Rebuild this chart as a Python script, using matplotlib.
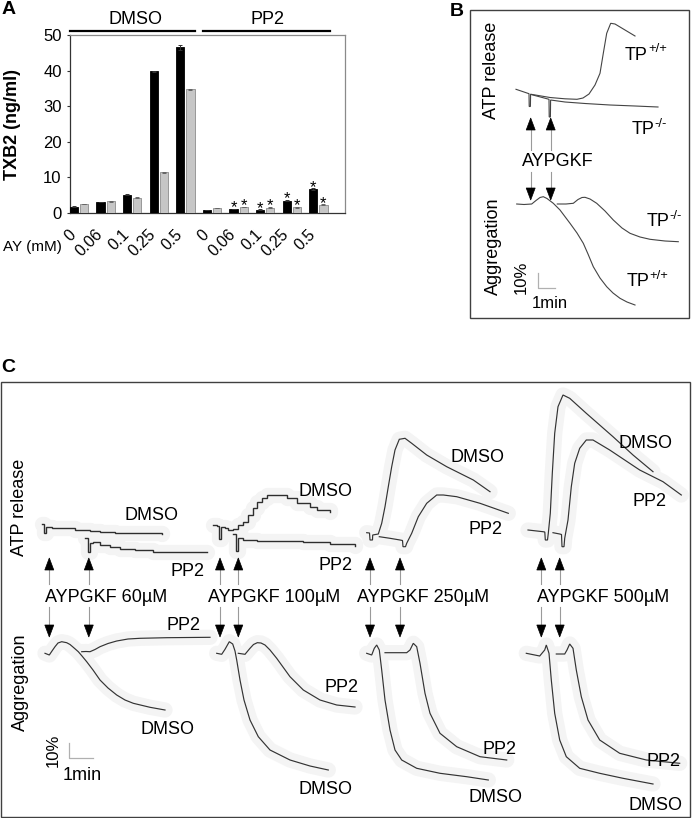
import matplotlib
matplotlib.use('Agg')
import matplotlib.pyplot as plt
import numpy as np
from matplotlib.patches import Polygon, Rectangle
import matplotlib.transforms as mtransforms

plt.rcParams['font.family'] = ['Liberation Sans', 'DejaVu Sans']

# ---------------- Panel A data ----------------
dose_labels = ['0', '0.06', '0.1', '0.25', '0.5', '0', '0.06', '0.1', '0.25', '0.5']
treatments = ['DMSO', 'PP2']
wt_txb2 = [1.8, 3.1, 5.1, 39.8, 46.5, 0.8, 1.1, 0.9, 3.5, 6.7]
ko_txb2 = [2.5, 3.3, 4.3, 11.4, 34.7, 1.4, 1.7, 1.5, 1.6, 2.3]
wt_err = [0.1, 0.1, 0.1, 0.2, 0.6, 0.05, 0.1, 0.1, 0.2, 0.2]
ko_err = [0.1, 0.1, 0.1, 0.15, 0.25, 0.05, 0.1, 0.1, 0.1, 0.1]
wt_sig = [False, False, False, False, False, False, True, True, True, True]
ko_sig = [False, False, False, False, False, False, True, True, True, True]
y_ticks = [0, 10, 20, 30, 40, 50]

# ---------------- Panel B traces (trace units = figure pixels) ----------------
B_ATP_WT = [(516, 89.3), (529, 93.7), (529.2, 106.5), (530.4, 106.5), (530.6, 94.2), (550, 97.5),
            (565, 98.8), (577, 99.3), (583, 98), (589, 94), (595, 85), (600, 73.3), (603.3, 53.3),
            (606.7, 33.3), (610.7, 23.3), (615, 24), (625, 30), (635, 36)]
B_ATP_KO = [(531, 94.5), (549, 99.3), (549.2, 117), (550.4, 117), (550.6, 100), (565, 102),
            (585, 103.5), (610, 105), (635, 106), (658, 107)]
B_AGG_WT = [(516.7, 204), (524, 204.5), (531.7, 204), (536, 200.5), (540, 197.5), (543.3, 196.7),
            (547, 198.5), (553.3, 203.3), (560, 210), (570, 223.3), (577, 233), (583.3, 243.3),
            (588, 254), (593.3, 266.7), (600, 278), (606.7, 286.7), (613, 293), (620, 298.3),
            (627, 302), (635, 305)]
B_AGG_KO = [(557.3, 204), (566, 204), (573.3, 203.3), (578, 199.5), (582, 197.5), (585, 197.3),
            (590, 199), (596.7, 203.3), (605, 211), (613.3, 220), (622, 228), (630, 233.3),
            (640, 237), (650, 239.3), (665, 241), (678.3, 241.7)]

# ---------------- Panel C traces ----------------
C1_ATP_DMSO = [(41.7, 524), (43.5, 533), (46, 527), (52, 527.5), (60, 528.3), (75, 530), (90, 531),
               (100, 531.7), (115, 532.5), (133, 533.3), (161.7, 534), (161.8, 534)]
C1_ATP_PP2 = [(85, 538.3), (87.5, 540), (88.3, 551.7), (90, 543), (93.3, 541.7), (100, 545),
              (110, 546.5), (120, 549), (135, 550), (153, 551.7), (206.7, 552.3), (206.8, 552.3)]
C1_AGG_DMSO = [(45, 653.3), (49.3, 655), (52, 651), (55, 646.7), (58, 643), (61.7, 641.7),
               (66.7, 642.7), (70, 644.5), (73.3, 647.3), (78.3, 651.7), (82, 656), (86.7, 661.7),
               (93, 670), (100, 680), (108, 688), (116.7, 695), (125, 700), (133.3, 703.3),
               (150, 707.3), (165, 710)]
C1_AGG_PP2 = [(81.7, 651.7), (86, 651.5), (90, 651.7), (95, 649.5), (100, 646.7), (108, 643.5),
              (116.7, 641), (128, 639), (140, 638.3), (166.7, 637.7), (210, 637.3)]

C2_ATP_DMSO = [(213.3, 524.5), (217, 526), (219, 539.3), (220.7, 527.3), (225, 528.3), (228.3, 530),
               (233.3, 529.3), (238.3, 525), (243.3, 521.7), (248.3, 515), (253.3, 508.3),
               (257.3, 501.7), (261.7, 498.3), (266.7, 495), (286.7, 498.3), (296.7, 503.3),
               (310, 506.7), (316.7, 510), (330, 511.7), (330.1, 511.7)]
C2_ATP_PP2 = [(233.3, 534), (236, 550.5), (238.3, 538.3), (243.3, 540), (256.7, 540.7),
              (303.3, 541.7), (330, 543.5), (355, 546), (355.1, 546)]
C2_AGG_DMSO = [(216.7, 653.3), (221.7, 654.3), (225, 649.3), (229.3, 641.7), (232.7, 644),
               (235, 651), (236.7, 660), (240, 680), (244, 700), (250, 720), (258.3, 736.7),
               (270, 750), (290, 760), (310, 766), (328.3, 770)]
C2_AGG_PP2 = [(238.3, 653.3), (245, 654.3), (250, 648.3), (253.5, 644.5), (257.3, 642.7),
              (261, 643), (265, 645), (270, 650), (276.7, 658.3), (290, 676.7), (303.3, 690),
              (320, 700), (336.7, 705), (355, 707)]

C3_ATP_DMSO = [(366.7, 532.7), (369.5, 533), (370, 540), (372.5, 540), (372.7, 535), (378.3, 534),
               (381.7, 523.3), (385, 506.7), (388.3, 486.7), (391.7, 466.7), (395, 450),
               (399.3, 439.3), (405, 438.3), (411.7, 443.3), (426.7, 455), (446.7, 466.7),
               (473.3, 480), (490, 491.7)]
C3_ATP_PP2 = [(379.3, 536.7), (390, 538.3), (400, 540), (402.5, 540.5), (403, 546.7), (405.5, 546.7),
              (406.7, 543.3), (411.7, 533.3), (418.3, 516.7), (426.7, 503.3), (436.7, 495),
              (443.3, 495), (456.7, 496.7), (480, 503.3), (508.3, 513.3)]
C3_AGG_DMSO = [(366.7, 653.3), (371.7, 655), (374.3, 648.3), (376.7, 645), (379.3, 650),
               (381.7, 670), (385, 700), (390, 730), (395, 750), (401.7, 760), (416.7, 768.3),
               (440, 773.3), (466.7, 776.7), (488.3, 780)]
C3_AGG_PP2 = [(385, 652.7), (406.7, 652.7), (410, 650), (413.3, 643.3), (416.7, 646.7),
              (420, 663.3), (425, 693.3), (430, 713.3), (440, 733.3), (456.7, 746.7),
              (480, 756.7), (506.7, 760)]

C4_ATP_DMSO = [(528, 530), (543, 531.7), (544.8, 532), (545.3, 540), (547.5, 540), (548.3, 533.3),
               (550.3, 513.3), (552.3, 473.3), (554.7, 433.3), (558, 406.7), (563, 395),
               (569.7, 398.3), (586.3, 413.3), (613, 436.7), (633, 455), (653, 471.7)]
C4_ATP_PP2 = [(553, 532.7), (559.7, 534), (561.5, 534.5), (562, 546.7), (564, 546.7),
              (564.7, 538.3), (568, 520), (571.3, 486.7), (574.7, 463.3), (579.7, 448.3),
              (586.3, 440), (593, 440), (609.7, 450), (639.7, 470), (663, 481.7), (681.3, 495)]
C4_AGG_DMSO = [(526.3, 653.3), (539.7, 656), (544.7, 650), (546.3, 645), (549, 653.3),
               (551.3, 680), (554.7, 713.3), (559.7, 740), (566.3, 756.7), (579.7, 768.3),
               (599.7, 773.3), (623, 778.3), (653, 784)]
C4_AGG_PP2 = [(556.3, 654), (564.7, 654), (567, 650), (569.7, 644), (573, 648.3), (576.3, 670),
              (581.3, 696.7), (588, 720), (599.7, 740), (619.7, 753.3), (646.3, 760),
              (679.7, 763.3)]

agonist_doses = ['60µM', '100µM', '250µM', '500µM']

# ---------------- Figure ----------------
W, H = 693, 818
fig = plt.figure(figsize=(W / 100, H / 100), dpi=100)
ov = fig.add_axes([0, 0, 1, 1])
ov.set_xlim(0, W)
ov.set_ylim(H, 0)
ov.axis('off')
renderer = fig.canvas.get_renderer()


def em(size):
    return size * 100 / 72


def label(xc, yc, s, size=13, ha='center', **kw):
    return ov.text(xc, yc + 0.36 * em(size), s, fontsize=size, ha=ha, va='baseline', **kw)


def rich(x, yc, parts, size=13, ha='left', color='black'):
    y = yc + 0.36 * em(size)
    cx = x
    texts = []
    for s, kind in parts:
        if kind == 'n':
            fs, dy = size, 0
        elif kind == 'sup':
            fs, dy = size * 0.72, -0.42 * em(size)
        else:
            fs, dy = size * 0.72, 0.22 * em(size)
        t = ov.text(cx, y + dy, s, fontsize=fs, ha='left', va='baseline', color=color)
        cx += t.get_window_extent(renderer).width
        texts.append(t)
    if ha == 'center':
        shift = (cx - x) / 2
        for t in texts:
            px, py = t.get_position()
            t.set_position((px - shift, py))


def trace(pts, steps=False, halo=True, color='#333333', lw=0.85):
    xs = [p[0] for p in pts]
    ys = [p[1] for p in pts]
    ds = 'steps-post' if steps else 'default'
    if halo:
        ov.plot(xs, ys, color='#f4f4f4', lw=11, solid_capstyle='round',
                solid_joinstyle='round', zorder=1, drawstyle=ds)
    ov.plot(xs, ys, color=color, lw=lw, zorder=3, drawstyle=ds,
            solid_joinstyle='miter')


def arrow(x, y_tail, y_tip, head=12, hw=4.5):
    d = 1 if y_tip > y_tail else -1
    base = y_tip - d * head
    ov.plot([x, x], [y_tail, base], color='#9a9a9a', lw=0.8, zorder=3)
    ov.add_patch(Polygon([(x - hw, base), (x + hw, base), (x, y_tip)], closed=True,
                         facecolor='black', edgecolor='black', lw=0.5, zorder=4))


# ---------------- Panel A ----------------
axA = fig.add_axes([70 / W, 1 - 213 / H, 275 / W, 178 / H])
xg = np.arange(len(wt_txb2))
axA.bar(xg - 0.19, wt_txb2, 0.31, color='black', edgecolor='black', lw=0.6,
        yerr=wt_err, capsize=1.5, error_kw=dict(lw=0.7, ecolor='#333333', capthick=0.7), zorder=3)
axA.bar(xg + 0.19, ko_txb2, 0.31, color='#c6c6c6', edgecolor='#8c8c8c', lw=0.6,
        yerr=ko_err, capsize=1.5, error_kw=dict(lw=0.7, ecolor='#666666', capthick=0.7), zorder=3)
for i in range(len(xg)):
    if wt_sig[i]:
        axA.text(xg[i] - 0.19, wt_txb2[i] - 0.8, '*', ha='center', va='baseline', fontsize=12)
    if ko_sig[i]:
        axA.text(xg[i] + 0.19, ko_txb2[i] - 0.8, '*', ha='center', va='baseline', fontsize=12)
axA.set_xlim(-0.34, 10.0)
axA.set_ylim(0, 50)
axA.set_yticks(y_ticks)
axA.set_yticklabels([str(v) for v in y_ticks], fontsize=12)
axA.set_xticks(xg)
axA.set_xticklabels(dose_labels, rotation=45, ha='right', va='top', fontsize=11.5)
offset = mtransforms.ScaledTranslation(7 / 100, 0, fig.dpi_scale_trans)
for lab in axA.get_xticklabels():
    lab.set_transform(lab.get_transform() + offset)
axA.tick_params(axis='x', length=0, pad=10)
axA.tick_params(axis='y', length=2.5, pad=3.5, color='#333333')
for side in ['left', 'bottom']:
    axA.spines[side].set_color('#333333')
for side in ['top', 'right']:
    axA.spines[side].set_color('#8a8a8a')
for sp in axA.spines.values():
    sp.set_linewidth(0.9)

ov.text(13, 124.5, 'TXB2 (ng/ml)', rotation=90, ha='center', va='center',
        fontsize=13, fontweight='bold')
label(32, 245, 'AY (mM)', size=11)
label(136, 17, treatments[0], size=13)
label(267, 17, treatments[1], size=13)
ov.plot([70, 195], [31, 31], color='black', lw=1.6)
ov.plot([203, 330], [31, 31], color='black', lw=1.6)
# legend
ov.add_patch(Rectangle((245, 50), 18, 10, facecolor='black', edgecolor='black', lw=0.5))
ov.add_patch(Rectangle((245, 71), 19, 9, facecolor='#c6c6c6', edgecolor='#a0a0a0', lw=0.5))
rich(272, 54, [('WT', 'n')], size=11.5)
rich(268, 76, [('P2Y', 'n'), ('12', 'sub'), ('-/-', 'sup')], size=11.5)
ov.text(8.5, 9, 'A', fontsize=14, fontweight='bold', ha='center', va='center')

# ---------------- Panel B ----------------
ov.add_patch(Rectangle((470, 10), 219, 308, fill=False, edgecolor='#404040', lw=1.0))
ov.text(457, 11, 'B', fontsize=14, fontweight='bold', ha='center', va='center')
trace(B_ATP_WT, halo=False, color='#444444', lw=0.8)
trace(B_ATP_KO, halo=False, color='#444444', lw=0.8)
trace(B_AGG_WT, halo=False, color='#444444', lw=0.8)
trace(B_AGG_KO, halo=False, color='#444444', lw=0.8)
for xa in (530.7, 550.7):
    arrow(xa, 150, 118)
    arrow(xa, 172, 200)
label(558, 160, 'AYPGKF', size=13)
ov.text(492, 70, 'ATP release', rotation=90, ha='center', va='center', fontsize=13)
ov.text(493, 246, 'Aggregation', rotation=90, ha='center', va='center', fontsize=13)
rich(625, 53, [('TP', 'n'), ('+/+', 'sup')], size=13)
rich(631.7, 128, [('TP', 'n'), ('-/-', 'sup')], size=13)
rich(646.7, 220, [('TP', 'n'), ('-/-', 'sup')], size=13)
rich(626.7, 280, [('TP', 'n'), ('+/+', 'sup')], size=13)
ov.plot([538.3, 538.3, 555], [273, 288, 288], color='#b0b0b0', lw=0.9)
ov.text(521.7, 277, '10%', rotation=90, ha='center', va='center', fontsize=12)
label(550, 301.7, '1min', size=12)

# ---------------- Panel C ----------------
ov.add_patch(Rectangle((1, 382), 689, 435, fill=False, edgecolor='#404040', lw=1.0))
ov.text(8, 367, 'C', fontsize=14, fontweight='bold', ha='center', va='center')
ov.text(20, 507, 'ATP release', rotation=90, ha='center', va='center', fontsize=13)
ov.text(20, 682, 'Aggregation', rotation=90, ha='center', va='center', fontsize=13)

for pts in (C1_ATP_DMSO, C1_ATP_PP2, C2_ATP_DMSO, C2_ATP_PP2):
    trace(pts, steps=True, color='#2e2e2e', lw=1.0)
for pts in (C1_AGG_DMSO, C1_AGG_PP2, C2_AGG_DMSO, C2_AGG_PP2,
            C3_ATP_DMSO, C3_ATP_PP2, C3_AGG_DMSO, C3_AGG_PP2,
            C4_ATP_DMSO, C4_ATP_PP2, C4_AGG_DMSO, C4_AGG_PP2):
    trace(pts)

arrow_x = [(49.3, 88.8), (220, 238.3), (370, 400), (541.3, 559.7)]
text_cx = [106, 274.5, 423.5, 603]
for (xa, xb), cx, dose in zip(arrow_x, text_cx, agonist_doses):
    for xa_ in (xa, xb):
        arrow(xa_, 584, 558)
        arrow(xa_, 607, 637)
    label(cx, 595, 'AYPGKF ' + dose, size=13)

# trace labels in C
label(152, 514, 'DMSO'); label(188, 570, 'PP2')
label(184, 623, 'PP2'); label(167, 728, 'DMSO')
label(325, 489, 'DMSO'); label(335, 563, 'PP2')
label(342, 685, 'PP2'); label(325, 787, 'DMSO')
label(477, 455, 'DMSO'); label(486, 528, 'PP2')
label(500, 748, 'PP2'); label(496, 795, 'DMSO')
label(645, 442, 'DMSO'); label(650, 500, 'PP2')
label(664, 760, 'PP2'); label(655, 804, 'DMSO')

# scale bar C
ov.plot([69, 69, 92.7], [743, 758, 758], color='#b0b0b0', lw=0.9)
ov.text(53.3, 750, '10%', rotation=90, ha='center', va='center', fontsize=12)
label(82.5, 773, '1min', size=13)

fig.savefig('out.png', dpi=100)
